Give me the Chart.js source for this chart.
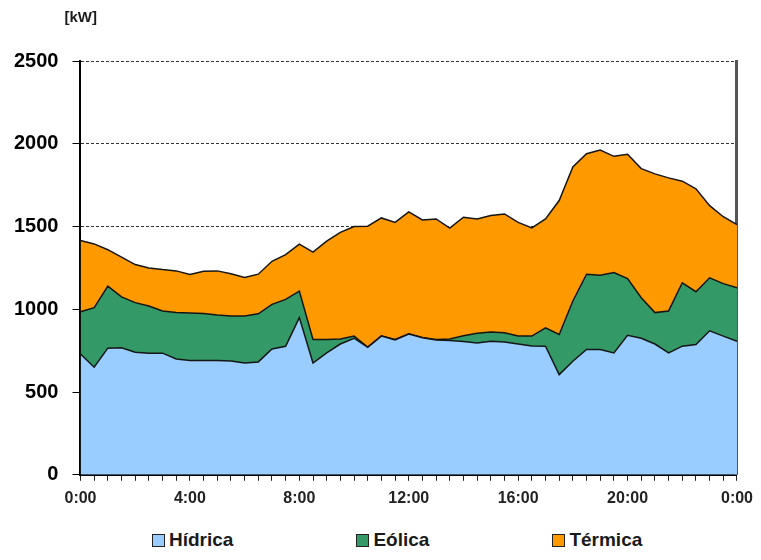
<!DOCTYPE html>
<html>
<head>
<meta charset="utf-8">
<script src="https://cdn.jsdelivr.net/npm/chart.js@4.4.1/dist/chart.umd.min.js"></script>
<style>
  body { margin: 0; background: #fff; font-family: "Liberation Sans", Arial, sans-serif; }
  #wrap { width: 761px; height: 560px; }
  #genChart { display: block; }
  #legend { display: flex; align-items: center; height: 40px; padding-left: 152px; }
  .item { display: flex; align-items: center; margin-right: 123px; font-weight: bold; font-size: 19px; color: #1a1a1a; }
  .box { width: 11px; height: 11px; border: 1px solid #222; margin-right: 4px; }
</style>
</head>
<body>
<div id="wrap">
  <canvas id="genChart" width="761" height="520"></canvas>
  <div id="legend"></div>
</div>
<script>
// half-hour steps over one day
const times = [
    "0:00", "0:30", "1:00", "1:30", "2:00", "2:30", "3:00", "3:30",
    "4:00", "4:30", "5:00", "5:30", "6:00", "6:30", "7:00", "7:30",
    "8:00", "8:30", "9:00", "9:30", "10:00", "10:30", "11:00", "11:30",
    "12:00", "12:30", "13:00", "13:30", "14:00", "14:30", "15:00", "15:30",
    "16:00", "16:30", "17:00", "17:30", "18:00", "18:30", "19:00", "19:30",
    "20:00", "20:30", "21:00", "21:30", "22:00", "22:30", "23:00", "23:30",
    "0:00"
];
const xTickLabels = ["0:00", "4:00", "8:00", "12:00", "16:00", "20:00", "0:00"];
const yTicks = [0, 500, 1000, 1500, 2000, 2500];

// kW per source
const hidrica = [
    730, 650, 765, 768, 740, 735, 735, 700, 690, 690,
    690, 688, 676, 682, 760, 776, 950, 675, 736, 790,
    825, 770, 838, 815, 850, 828, 815, 812, 805, 797,
    807, 803, 790, 778, 777, 605, 686, 757, 757, 736,
    843, 825, 790, 736, 777, 787, 870, 838, 807
];
const eolica = [
    255, 360, 375, 307, 300, 285, 255, 280, 288, 285,
    275, 272, 284, 291, 270, 284, 160, 143, 82, 30,
    13, 2, 2, 3, 2, 2, 3, 8, 35, 58,
    56, 55, 48, 60, 111, 243, 364, 455, 448, 486,
    342, 245, 190, 254, 383, 319, 320, 317, 323
];
const termica = [
    430, 385, 220, 240, 230, 230, 250, 252, 232, 255,
    267, 255, 232, 239, 260, 270, 284, 527, 594, 645,
    662, 730, 712, 707, 736, 710, 728, 670, 716, 691,
    703, 718, 687, 654, 658, 809, 810, 728, 757, 702,
    751, 780, 838, 804, 614, 622, 436, 404, 381
];

const FONT = "'Liberation Sans', Arial, sans-serif";

const unitLabel = {
    id: "unitLabel",
    afterDraw(chart) {
        const ctx = chart.ctx;
        ctx.save();
        ctx.font = `bold 15px ${FONT}`;
        ctx.fillStyle = "#1a1a1a";
        ctx.textBaseline = "middle";
        ctx.fillText("[kW]", chart.chartArea.left - 16, 18);
        ctx.restore();
    }
};

function area(label, data, color, fill) {
    return {
        label: label,
        data: data,
        backgroundColor: color,
        borderColor: "#151515",
        borderWidth: 1.5,
        pointRadius: 0,
        tension: 0,
        fill: fill
    };
}

const ctx = document.getElementById("genChart").getContext("2d");

const chart = new Chart(ctx, {
    type: "line",
    data: {
        labels: times,
        datasets: [
            area("Hídrica", hidrica, "#99ccff", "origin"),
            area("Eólica", eolica, "#339966", "-1"),
            area("Térmica", termica, "#ff9900", "-1")
        ]
    },
    plugins: [unitLabel],
    options: {
        responsive: false,
        animation: false,
        layout: {
            padding: { top: 61, left: 0, right: 11, bottom: 4 }
        },
        plugins: {
            legend: { display: false },
            tooltip: { enabled: false }
        },
        scales: {
            x: {
                ticks: {
                    autoSkip: false,
                    maxRotation: 0,
                    padding: 8,
                    color: "#222",
                    font: { family: FONT, size: 16, weight: "bold" },
                    callback: (value, index) => (index % 8 === 0 ? xTickLabels[index / 8] : "")
                },
                grid: {
                    drawOnChartArea: false,
                    tickLength: 6,
                    tickColor: "#222"
                },
                border: { color: "#000", width: 2 }
            },
            y: {
                stacked: true,
                min: 0,
                max: 2500,
                afterBuildTicks: (scale) => {
                    scale.ticks = yTicks.map((v) => ({ value: v }));
                },
                ticks: {
                    padding: 14,
                    color: "#000",
                    font: { family: FONT, size: 20, weight: "bold" },
                    callback: (value) => String(value)
                },
                grid: {
                    color: "#333",
                    lineWidth: 1,
                    tickLength: 8,
                    tickColor: "#000",
                    tickBorderDash: []
                },
                border: { color: "#000", width: 2, dash: [3, 2] }
            },
            y2: {
                position: "right",
                min: 0,
                max: 2500,
                ticks: { display: false },
                grid: { display: false },
                border: { color: "#555", width: 3 }
            }
        }
    }
});

// legend row under the canvas
const legend = document.getElementById("legend");
chart.data.datasets.forEach((ds) => {
    const item = document.createElement("div");
    item.className = "item";
    const box = document.createElement("span");
    box.className = "box";
    box.style.background = ds.backgroundColor;
    const text = document.createElement("span");
    text.textContent = ds.label;
    item.appendChild(box);
    item.appendChild(text);
    legend.appendChild(item);
});
</script>
</body>
</html>
